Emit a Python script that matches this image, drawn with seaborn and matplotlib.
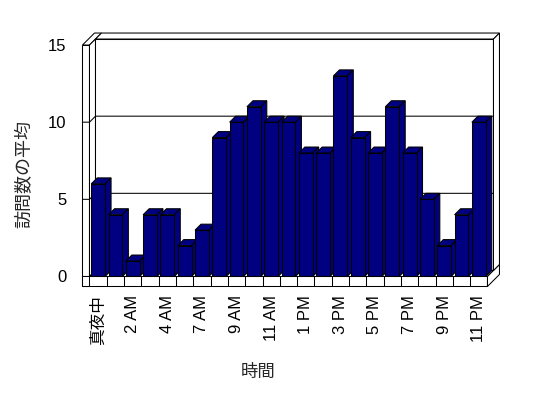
import numpy as np
import pandas as pd
import seaborn as sns
import matplotlib.pyplot as plt
from matplotlib.patches import Polygon

# dados: media de visitas por hora
horas = ["真夜中", "1 AM", "2 AM", "3 AM", "4 AM", "6 AM", "7 AM", "8 AM",
         "9 AM", "10 AM", "11 AM", "正午", "1 PM", "2 PM", "3 PM", "4 PM",
         "5 PM", "6 PM", "7 PM", "8 PM", "9 PM", "10 PM", "11 PM"]
visitas = [6, 4, 1, 4, 4, 2, 3, 9, 10, 11, 10, 10, 8, 8, 13, 9, 8, 11, 8, 5, 2, 4, 10]
yticks = [0, 5, 10, 15]

df = pd.DataFrame({"hora": horas, "visitas": visitas})

sns.set_style("white")
plt.rcParams["font.family"] = ["Liberation Sans", "Noto Sans CJK JP", "DejaVu Sans"]

fig = plt.figure(figsize=(5.48, 3.98), dpi=100)
ax = fig.add_axes([0.1475, 0.2666, 0.7736, 0.6784])

navy = "#000080"
lw = 0.75
sns.barplot(data=df, x="hora", y="visitas", order=horas, color=navy,
            edgecolor="black", linewidth=lw, width=0.8, ax=ax, saturation=1)

n = len(horas)
ymax = yticks[-1]
ax.set_xlim(-1.0, n + 0.5)
ax.set_ylim(-1.0, 16.5)

# deslocamento de profundidade (6 px) em unidades de dados
dx = 6 / 17.3
dy = 6 / 15.43
ft = 10 / 15.43   # espessura do piso
w = 7 / 17.3      # espessura da parede esquerda
a, b = -0.5, n - 0.5


def P(x, y, z):
    return (x + z * dx, y + z * dy)


def face(pts, fc="white", z=0.5):
    ax.add_patch(Polygon(pts, closed=True, fc=fc, ec="black", lw=lw,
                         zorder=z, clip_on=False))


# piso
face([(a - w, -ft), (b, -ft), (b, 0), (a - w, 0)])
face([P(a - w, 0, 0), P(b, 0, 0), P(b, 0, 2), P(a - w, 0, 2)])
face([P(b, -ft, 0), P(b, -ft, 2), P(b, 0, 2), P(b, 0, 0)])
for k in range(1, n):
    ax.plot([a + k, a + k], [-ft, 0], color="black", lw=lw, zorder=0.6)

# parede esquerda
face([(a - w, -ft), (a, -ft), (a, ymax), (a - w, ymax)], z=0.7)
face([P(a - w, ymax, 0), P(a, ymax, 0), P(a, ymax, 2), P(a - w, ymax, 2)], z=0.7)
face([P(a, 0, 0), P(a, ymax, 0), P(a, ymax, 1), P(a, 0, 1)], z=0.7)

# parede do fundo
face([P(a, 0, 1), P(b, 0, 1), P(b, ymax, 1), P(a, ymax, 1)], z=0.8)
face([P(a, ymax, 1), P(b, ymax, 1), P(b, ymax, 2), P(a, ymax, 2)], z=0.8)
face([P(b, 0, 1), P(b, 0, 2), P(b, ymax, 2), P(b, ymax, 1)], z=0.8)

# linhas de grade
for v in yticks[:-1]:
    xs, ys = zip(P(a - w, v, 0), P(a, v, 0), P(a, v, 1), P(b, v, 1))
    ax.plot(xs, ys, color="black", lw=lw, zorder=0.9)

# faces 3D das barras
for i, p in enumerate(ax.patches[:n]):
    x0, wd, h = p.get_x(), p.get_width(), p.get_height()
    zb = 2 + i * 0.01
    p.set_zorder(zb + 0.005)
    face([(x0, h), (x0 + wd, h), P(x0 + wd, h, 1), P(x0, h, 1)], fc=navy, z=zb)
    face([(x0 + wd, 0), (x0 + wd, h), P(x0 + wd, h, 1), P(x0 + wd, 0, 1)], fc=navy, z=zb)

ax.set_xticks(range(0, n, 2))
ax.set_xticklabels(horas[::2], rotation=90, fontsize=12)
ax.set_yticks(yticks)
ax.set_yticklabels([str(t) for t in yticks], fontsize=12)
ax.tick_params(axis="x", length=0, pad=2.2, colors="black")
ax.tick_params(axis="y", length=0, pad=10.5, colors="black")
ax.set_xlabel("")
ax.set_ylabel("")
for s in ax.spines.values():
    s.set_visible(False)

fig.text(25 / 548, 1 - 174 / 398, "訪問数の平均", rotation=90, ha="center",
         va="center", fontsize=13)
fig.text(258 / 548, 1 - 372 / 398, "時間", ha="center", va="center", fontsize=12.5)

fig.savefig("out.png", dpi=100)
